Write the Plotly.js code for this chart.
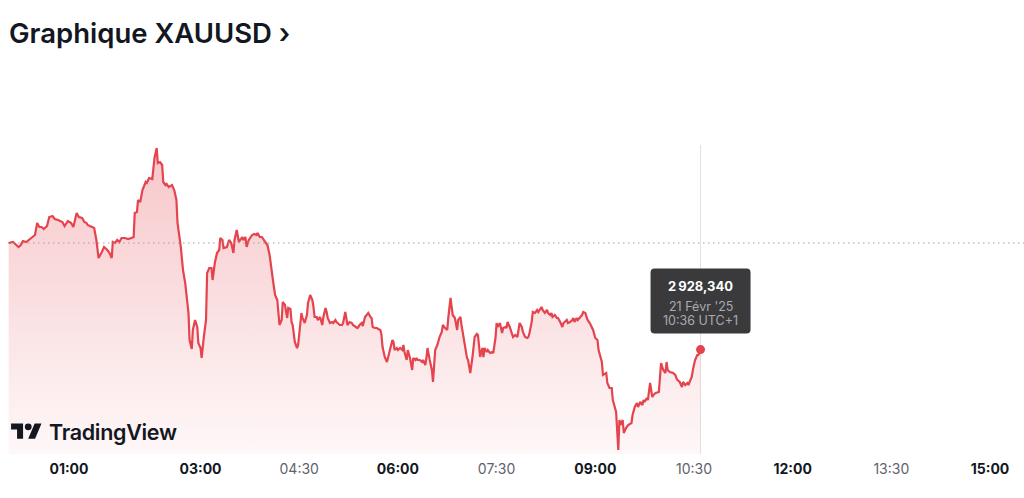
<!DOCTYPE html>
<html>
<head>
<meta charset="utf-8">
<script src="https://cdn.plot.ly/plotly-3.0.1.min.js"></script>
<style>
  html, body { margin: 0; padding: 0; background: #fff; }
  #wrap { position: relative; width: 1024px; height: 498px; }
  #chart { width: 1024px; height: 498px; }
  #logo { position: absolute; left: 11px; top: 419px; display: flex; align-items: center;
    font-family: Inter, Roboto, sans-serif; font-weight: 600; font-size: 21.5px; color: #131722; letter-spacing: -0.3px; }
  #logo svg { margin-right: 7px; }
</style>
</head>
<body>
<div id="wrap">
  <div id="chart"></div>
  <div id="logo">
    <svg width="31" height="24" viewBox="0 0 36 28"><path fill="#131722" d="M14 22H7V11H0V4h14v18zM28 22h-8l7.5-18h8L28 22z"/><circle fill="#131722" cx="20" cy="8" r="4"/></svg>
    <span>TradingView</span>
  </div>
</div>
<script>
// minutes after midnight (UTC+1), 21 Feb 2025
const minutes = [5,9,11,14,16,18,21,24,26,29,31,33,35,37,40,42,45,47,50,54,56,59,62,64,67,69,72,74,76,77,81,83,85,86,87,90,92,95,97,99,100,102,104,106,108,111,114,117,119,120,122,123,125,127,128,130,131,133,136,137,138,140,141,143,145,146,148,149,151,154,156,158,159,162,164,166,168,169,170,172,173,175,177,178,180,181,183,185,186,188,190,191,193,195,197,198,200,201,204,206,208,210,211,213,215,218,219,221,222,224,227,229,231,232,234,236,239,241,242,243,246,248,250,251,252,254,255,257,259,260,262,263,264,266,268,269,271,272,273,275,277,278,280,282,283,284,286,287,289,291,292,294,295,296,298,300,301,303,304,305,307,309,310,312,313,314,316,318,319,321,323,324,325,327,328,330,332,333,335,336,337,339,341,342,344,345,346,348,350,351,353,355,356,357,359,360,362,364,365,366,368,369,371,373,374,376,377,378,380,382,383,385,386,387,389,391,392,394,396,397,398,400,401,403,405,406,408,409,410,412,414,415,417,418,419,421,423,424,426,428,429,430,432,433,435,437,438,439,441,442,444,446,447,449,450,451,453,455,456,458,459,460,462,464,465,467,469,470,471,473,474,476,478,479,480,482,483,485,487,488,490,491,492,494,496,497,499,500,501,503,505,506,508,510,511,512,514,515,517,519,520,521,523,524,526,528,529,531,532,533,535,537,538,540,542,543,546,547,550,551,553,555,556,559,560,561,562,563,565,566,568,570,573,574,576,578,579,581,583,584,585,587,588,590,592,593,595,598,600,602,604,605,606,608,611,613,614,615,617,619,620,622,624,625,626,628,629,631,633,634,636];

const prices = [2939.0,2939.1,2938.9,2938.6,2938.8,2939.2,2939.1,2939.4,2939.6,2939.8,2941.0,2940.6,2940.6,2940.4,2940.7,2941.6,2941.7,2941.4,2941.3,2941.1,2940.7,2941.2,2941.0,2940.6,2942.0,2941.6,2941.5,2941.1,2941.0,2940.8,2940.6,2940.5,2939.3,2938.1,2937.5,2938.1,2938.6,2938.3,2938.0,2937.5,2939.1,2939.0,2939.3,2939.1,2939.5,2939.5,2939.4,2939.5,2939.6,2942.0,2942.1,2943.3,2943.1,2944.3,2944.6,2945.1,2945.0,2945.5,2945.4,2946.6,2947.5,2948.5,2947.0,2947.1,2946.8,2945.1,2944.8,2944.9,2944.6,2944.8,2944.3,2943.3,2941.0,2938.6,2936.3,2935.0,2933.0,2932.0,2929.3,2928.4,2930.3,2931.3,2930.6,2929.0,2928.5,2927.5,2929.6,2931.3,2936.0,2936.5,2936.5,2935.3,2937.0,2938.0,2938.3,2939.5,2939.3,2938.5,2938.6,2939.3,2939.0,2938.0,2939.3,2940.3,2939.1,2939.6,2939.3,2939.6,2938.6,2939.3,2939.8,2939.9,2939.8,2940.0,2939.6,2939.6,2939.1,2938.8,2938.3,2937.8,2935.3,2933.8,2933.3,2932.3,2930.8,2931.3,2933.1,2932.8,2931.5,2932.5,2932.4,2931.1,2930.8,2929.1,2928.5,2928.8,2930.6,2932.0,2931.5,2931.0,2931.8,2933.0,2933.8,2933.3,2932.6,2931.6,2931.6,2931.3,2931.6,2930.8,2931.6,2932.5,2932.1,2931.5,2931.0,2931.1,2931.0,2931.3,2931.1,2931.0,2930.8,2930.8,2931.0,2932.1,2931.5,2930.8,2931.1,2931.0,2930.8,2930.6,2930.5,2930.6,2930.8,2931.0,2930.7,2931.6,2931.8,2932.0,2931.6,2931.5,2930.6,2930.5,2930.5,2930.4,2930.3,2929.8,2928.6,2927.6,2927.1,2927.6,2928.6,2929.3,2929.1,2928.3,2928.5,2928.3,2928.5,2928.3,2928.8,2928.1,2927.3,2928.3,2927.5,2926.3,2927.5,2927.3,2927.5,2927.3,2927.3,2927.1,2927.3,2926.8,2927.5,2928.5,2927.3,2926.3,2925.1,2928.3,2928.8,2929.3,2929.6,2930.1,2930.8,2930.5,2930.3,2931.6,2933.5,2932.6,2931.8,2931.5,2930.3,2931.3,2931.6,2930.8,2930.1,2928.6,2927.5,2927.3,2926.0,2927.6,2929.0,2929.6,2929.9,2929.8,2927.6,2928.5,2927.6,2928.5,2928.1,2928.3,2928.0,2928.1,2928.0,2929.5,2931.0,2930.6,2931.0,2930.0,2930.5,2930.6,2930.5,2931.1,2930.6,2929.8,2929.6,2929.8,2929.6,2930.3,2931.0,2930.6,2930.1,2929.6,2929.5,2929.6,2930.0,2931.1,2932.1,2932.0,2932.3,2932.1,2932.5,2932.6,2932.3,2932.0,2932.3,2932.0,2931.8,2932.0,2931.6,2931.8,2931.5,2931.5,2931.1,2930.6,2931.0,2931.1,2931.3,2931.0,2931.1,2931.3,2931.5,2931.1,2931.5,2931.3,2931.6,2931.8,2932.1,2932.0,2931.6,2931.3,2931.0,2930.5,2930.3,2929.5,2929.3,2928.3,2927.1,2925.8,2926.0,2925.0,2924.5,2924.5,2923.3,2922.1,2920.0,2918.3,2921.3,2920.8,2921.3,2920.0,2920.5,2920.8,2921.0,2921.8,2922.6,2923.0,2922.6,2923.1,2922.8,2923.3,2923.1,2923.5,2923.3,2925.0,2923.6,2923.8,2924.0,2924.1,2927.0,2926.3,2926.0,2927.1,2926.3,2926.1,2926.0,2925.8,2925.5,2925.3,2925.1,2924.6,2925.1,2924.8,2925.0,2924.8,2925.1,2925.6,2926.3,2927.3,2927.8,2927.8,2928.34];

const prevClose = 2939.0;
const tickMinutes = [60, 180, 270, 360, 450, 540, 630, 720, 810, 900];
const tickLabels = ['01:00', '03:00', '04:30', '06:00', '07:30', '09:00', '10:30', '12:00', '13:30', '15:00'];
const majorLabels = ['01:00', '03:00', '06:00', '09:00', '12:00', '15:00'];
const lastDate = "21 F\u00e9vr '25";
const lastTime = '10:36 UTC+1';

const RED = '#e5434d';
const lastX = minutes[minutes.length - 1];
const lastY = prices[prices.length - 1];
const yLo = 2917.9, yHi = 2948.8;

const fmtFr = (v) => {
  const [i, d] = v.toFixed(3).split('.');
  return i.replace(/\B(?=(\d{3})+(?!\d))/g, '\u202f') + ',' + d;
};

const ticktext = tickLabels.map((t) => (majorLabels.includes(t)
  ? `<b>${t}</b>`
  : `<span style="color:#5f626c">${t}</span>`));

// tooltip box: rounded rect in pixels relative to the last point
const tipBox = 'M -46,16 L 46,16 Q 50,16 50,20 L 50,77 Q 50,81 46,81 L -46,81 Q -50,81 -50,77 L -50,20 Q -50,16 -46,16 Z';
const tipLine = (text, shift, size, color) => ({
  x: lastX, y: lastY, xref: 'x', yref: 'y', showarrow: false,
  xanchor: 'center', yanchor: 'middle', yshift: shift,
  font: { size, color, family: 'Inter, sans-serif' }, text,
});

Plotly.newPlot('chart', [
  {
    x: minutes, y: prices, mode: 'lines', fill: 'tozeroy',
    line: { color: RED, width: 2.2 },
    fillgradient: {
      type: 'vertical', start: yLo, stop: Math.max(...prices),
      colorscale: [[0, 'rgba(229,67,77,0.04)'], [1, 'rgba(229,67,77,0.30)']],
    },
    hoverinfo: 'skip',
  },
  {
    x: [lastX], y: [lastY], mode: 'markers',
    marker: { color: RED, size: 9 },
    hoverinfo: 'skip',
  },
], {
  width: 1024, height: 498,
  paper_bgcolor: '#fff', plot_bgcolor: '#fff',
  margin: { l: 8, r: 0, t: 145, b: 44 },
  showlegend: false,
  font: { family: 'Inter, Roboto, sans-serif', color: '#131722' },
  title: {
    text: 'Graphique XAUUSD \u203a',
    font: { family: 'Inter, sans-serif', size: 27.5, weight: 600, color: '#131722' },
    xref: 'container', yref: 'container',
    x: 9 / 1024, xanchor: 'left', y: 1 - 33 / 498, yanchor: 'middle',
  },
  xaxis: {
    range: [4.4, 931], tickmode: 'array', tickvals: tickMinutes, ticktext,
    showgrid: false, zeroline: false, showline: false, ticks: '',
    tickfont: { size: 14, color: '#131722' }, ticklabelstandoff: 5,
    fixedrange: true,
  },
  yaxis: {
    range: [yLo, yHi], visible: false, showgrid: false, zeroline: false, fixedrange: true,
  },
  shapes: [
    { type: 'line', xref: 'paper', x0: 0, x1: 1, yref: 'y', y0: prevClose, y1: prevClose,
      line: { color: '#9ea1a8', width: 1.2, dash: '1.5px,3.5px' }, layer: 'above' },
    { type: 'line', xref: 'x', x0: lastX, x1: lastX, yref: 'paper', y0: 0, y1: 1,
      line: { color: '#e0e2e6', width: 1 }, layer: 'below' },
    { type: 'path', xref: 'x', yref: 'y', xsizemode: 'pixel', ysizemode: 'pixel',
      xanchor: lastX, yanchor: lastY, path: tipBox,
      fillcolor: 'rgba(52,52,54,0.97)', line: { width: 0 }, layer: 'above' },
  ],
  annotations: [
    tipLine(`<b>${fmtFr(lastY)}</b>`, 64, 13, '#ffffff'),
    tipLine(lastDate, 43.5, 12.5, '#a9abb0'),
    tipLine(lastTime, 29.5, 12.5, '#a9abb0'),
  ],
}, { staticPlot: true, displayModeBar: false });
</script>
</body>
</html>
